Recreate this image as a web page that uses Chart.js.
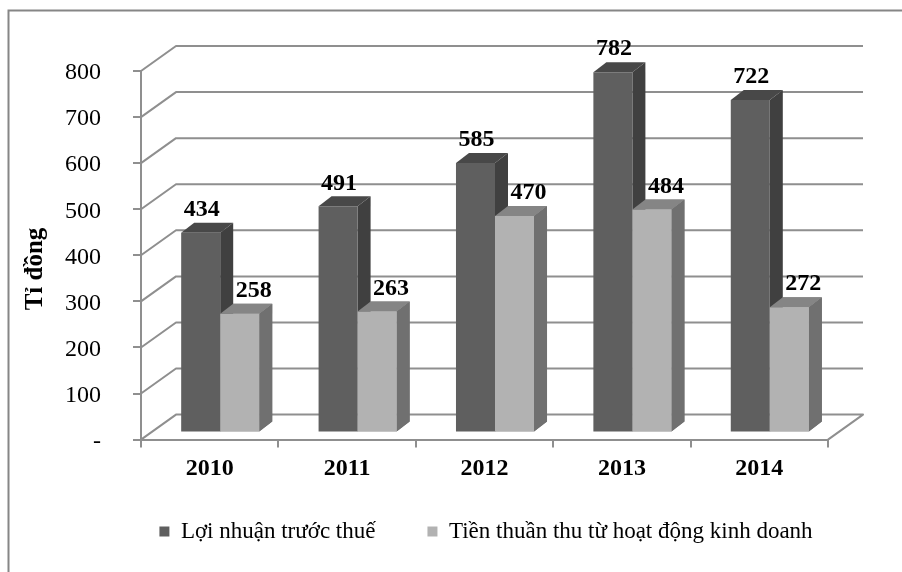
<!DOCTYPE html>
<html>
<head>
<meta charset="utf-8">
<title>Lợi nhuận</title>
<script src="https://cdn.jsdelivr.net/npm/chart.js@4"></script>
<style>html,body{margin:0;padding:0;background:#fff}canvas{display:block}</style>
</head>
<body>
<canvas id="chart" width="902" height="572" style="width:902px;height:572px"></canvas>
<script>
const years = ['2010', '2011', '2012', '2013', '2014'];
const profit = [434, 491, 585, 782, 722];
const netCash = [258, 263, 470, 484, 272];
const seriesNames = ['Lợi nhuận trước thuế', 'Tiền thuần thu từ hoạt động kinh doanh'];
const yTitle = 'Tỉ đồng';
const yTickLabels = { 0: '-' };

const SERIF = '"Liberation Serif", "Times New Roman", serif';
const GRID = '#8f8f8f';
// faces per dataset: front, side, top
const faces = [
  { front: '#5f5f5f', side: '#404040', top: '#484848', labelDx: 1 },
  { front: '#b2b2b2', side: '#707070', top: '#858585', labelDx: 14 }
];
const wall = { dx: 35, dy: -25 };   // back wall offset from the front axes
const barShift = { dx: 10.5, dy: -7 };
const depth = { dx: 13, dy: -10 };

function drawSides(c, meta, f) {
  meta.data.forEach(bar => {
    const p = bar.getProps(['x', 'y', 'base', 'width'], true);
    const l = p.x - p.width / 2, r = p.x + p.width / 2;
    c.fillStyle = f.side;
    c.beginPath();
    c.moveTo(r, p.y);
    c.lineTo(r + depth.dx, p.y + depth.dy);
    c.lineTo(r + depth.dx, p.base + depth.dy);
    c.lineTo(r, p.base);
    c.closePath();
    c.fill();
    c.fillStyle = f.top;
    c.beginPath();
    c.moveTo(l, p.y);
    c.lineTo(l + depth.dx, p.y + depth.dy);
    c.lineTo(r + depth.dx, p.y + depth.dy);
    c.lineTo(r, p.y);
    c.closePath();
    c.fill();
  });
}

const threeD = {
  id: 'threeD',
  afterLayout(chart) {
    // legend sits off-centre in the reference, under the plot
    const lg = chart.legend;
    const top = 468;
    lg.bottom += top - lg.top;
    lg.top = top;
    lg.left += 72;
    lg.right += 72;
  },
  beforeDraw(chart) {
    const c = chart.ctx;
    c.save();
    c.fillStyle = '#fff';
    c.fillRect(0, 0, chart.width, chart.height);
    c.strokeStyle = '#868686';
    c.lineWidth = 2;
    c.beginPath();
    c.moveTo(8.5, chart.height);
    c.lineTo(8.5, 10.5);
    c.lineTo(chart.width, 10.5);
    c.stroke();
    c.restore();
  },
  beforeDatasetsDraw(chart) {
    const c = chart.ctx;
    const { left, right } = chart.chartArea;
    c.save();
    c.strokeStyle = GRID;
    c.lineWidth = 2;
    c.lineJoin = 'round';
    chart.scales.y.ticks.forEach(t => {
      const y = chart.scales.y.getPixelForValue(t.value);
      c.beginPath();
      c.moveTo(left, y);
      c.lineTo(left + wall.dx, y + wall.dy);
      c.lineTo(right + wall.dx, y + wall.dy);
      if (t.value === 0) c.lineTo(right, y);
      c.stroke();
    });
    c.restore();
    c.save();
    c.translate(barShift.dx, barShift.dy);
  },
  beforeDatasetDraw(chart, args) {
    drawSides(chart.ctx, args.meta, faces[args.index]);
  },
  afterDatasetDraw(chart, args) {
    // dataset 0 is painted last; put the light bars back over its side faces
    if (args.index !== 0) return;
    const light = chart.getDatasetMeta(1);
    drawSides(chart.ctx, light, faces[1]);
    light.data.forEach(bar => bar.draw(chart.ctx));
  },
  afterDatasetsDraw(chart) {
    const c = chart.ctx;
    c.restore();
    c.save();
    c.fillStyle = '#000';
    c.font = 'bold 24px ' + SERIF;
    c.textAlign = 'center';
    c.textBaseline = 'middle';
    chart.data.datasets.forEach((ds, i) => {
      chart.getDatasetMeta(i).data.forEach((bar, k) => {
        const p = bar.getProps(['x', 'y'], true);
        c.fillText(ds.data[k], p.x + barShift.dx + faces[i].labelDx, p.y + barShift.dy - 23);
      });
    });
    // y tick labels and axis title
    c.font = '24px ' + SERIF;
    c.textAlign = 'right';
    chart.scales.y.ticks.forEach(t => {
      c.fillText(t.label, 101, chart.scales.y.getPixelForValue(t.value) + 2);
    });
    c.font = 'bold 25px ' + SERIF;
    c.textAlign = 'center';
    c.textBaseline = 'alphabetic';
    c.translate(42, 269);
    c.rotate(-Math.PI / 2);
    c.fillText(yTitle, 0, 0);
    c.restore();
  }
};

new Chart(document.getElementById('chart'), {
  type: 'bar',
  data: {
    labels: years,
    datasets: [
      { label: seriesNames[0], data: profit, backgroundColor: faces[0].front, clip: false },
      { label: seriesNames[1], data: netCash, backgroundColor: faces[1].front, clip: false }
    ]
  },
  options: {
    responsive: false,
    animation: false,
    devicePixelRatio: 1,
    layout: { padding: { left: 0, top: 71, right: 74, bottom: 0 } },
    categoryPercentage: 0.568,
    barPercentage: 1,
    scales: {
      x: {
        afterFit(s) { s.height = 47.4; },
        grid: { drawOnChartArea: false, color: GRID, lineWidth: 2, tickLength: 8 },
        border: { color: GRID, width: 2 },
        ticks: { color: '#000', padding: 7, maxRotation: 0, font: { family: SERIF, size: 24, weight: 'bold' } }
      },
      y: {
        min: 0,
        max: 800,
        afterFit(s) { s.width = 141; },
        grid: { drawOnChartArea: false, color: GRID, lineWidth: 2, tickLength: 8 },
        border: { color: GRID, width: 2 },
        ticks: {
          stepSize: 100,
          color: 'rgba(0,0,0,0)',
          padding: 32,
          font: { family: SERIF, size: 24 },
          callback: v => yTickLabels[v] || String(v)
        }
      }
    },
    plugins: {
      tooltip: { enabled: false },
      title: { display: false },
      legend: {
        position: 'bottom',
        labels: {
          color: '#000',
          boxWidth: 10,
          boxHeight: 10,
          padding: 52,
          font: { family: SERIF, size: 23 }
        }
      }
    }
  },
  plugins: [threeD]
});
</script>
</body>
</html>
